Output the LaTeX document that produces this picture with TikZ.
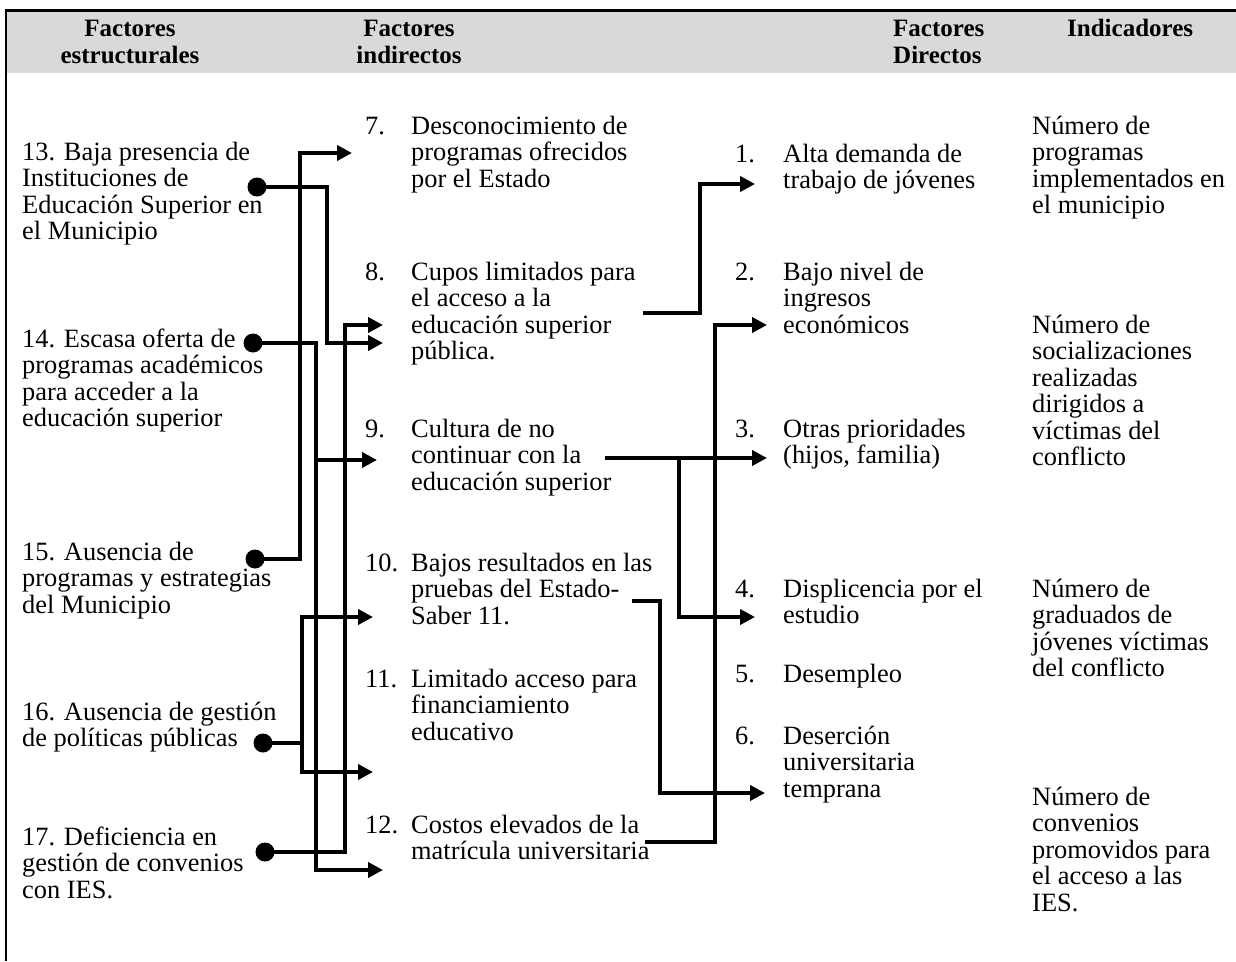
\documentclass[tikz,border=0pt]{standalone}
\usepackage{fontspec}
\setmainfont{Liberation Serif}
\usetikzlibrary{arrows.meta}
\definecolor{hdrgray}{HTML}{D9D9D9}
\newcommand\bodyf{\fontsize{26.4}{26.5}\selectfont}
\newcommand\hdrf{\fontsize{25}{27}\selectfont\bfseries}
\newcommand\ml[1]{\begin{tabular}[t]{@{}l@{}}#1\end{tabular}}
\newcommand\mc[1]{\begin{tabular}[t]{@{}c@{}}#1\end{tabular}}
\begin{document}
\begin{tikzpicture}[x=1pt,y=-1pt,
  txt/.style={anchor=base west, inner sep=0pt, font=\bodyf},
  hdr/.style={anchor=base, inner sep=0pt, font=\hdrf},
  hdrl/.style={anchor=base west, inner sep=0pt, font=\hdrf},
  conn/.style={line width=4.5pt, line join=miter},
  arr/.style={conn, -{Triangle[length=15pt,width=15pt]}},
  dotn/.style={circle, fill=black, inner sep=0pt, minimum size=19pt},
]
\useasboundingbox (0,0) rectangle (1236,961);
\fill[hdrgray] (6,11) rectangle (1236,73);
\draw[line width=3pt] (5,10) -- (1236,10);
\draw[line width=2.5pt] (6,9) -- (6,961);

% headers
\node[hdr] (h1) at (130,36) {\mc{Factores\\estructurales}};
\node[hdr] (h2) at (409,36) {\mc{Factores\\indirectos}};
\node[hdrl] (h3) at (893,36) {\ml{Factores\\Directos}};
\node[hdrl] (h4) at (1067,36) {Indicadores};

% column 1
\node[txt] (t13) at (22,160) {\ml{13. Baja presencia de\\Instituciones de\\Educación Superior en\\el Municipio}};
\node[txt] (t14) at (22,347) {\ml{14. Escasa oferta de\\programas académicos\\para acceder a la\\educación superior}};
\node[txt] (t15) at (22,560) {\ml{15. Ausencia de\\programas y estrategias\\del Municipio}};
\node[txt] (t16) at (22,720) {\ml{16. Ausencia de gestión\\de políticas públicas}};
\node[txt] (t17) at (22,845) {\ml{17. Deficiencia en\\gestión de convenios\\con IES.}};

% column 2
\node[txt] (n7) at (365,134) {7.};
\node[txt] (t7) at (411,134) {\ml{Desconocimiento de\\programas ofrecidos\\por el Estado}};
\node[txt] (n8) at (365,280) {8.};
\node[txt] (t8) at (411,280) {\ml{Cupos limitados para\\el acceso a la\\educación superior\\pública.}};
\node[txt] (n9) at (365,437) {9.};
\node[txt] (t9) at (411,437) {\ml{Cultura de no\\continuar con la\\educación superior}};
\node[txt] (n10) at (365,571) {10.};
\node[txt] (t10) at (411,571) {\ml{Bajos resultados en las\\pruebas del Estado-\\Saber 11.}};
\node[txt] (n11) at (365,687) {11.};
\node[txt] (t11) at (411,687) {\ml{Limitado acceso para\\financiamiento\\educativo}};
\node[txt] (n12) at (365,833) {12.};
\node[txt] (t12) at (411,833) {\ml{Costos elevados de la\\matrícula universitaria}};

% column 3
\node[txt] (n1) at (735,162) {1.};
\node[txt] (t1) at (783,162) {\ml{Alta demanda de\\trabajo de jóvenes}};
\node[txt] (n2) at (735,280) {2.};
\node[txt] (t2) at (783,280) {\ml{Bajo nivel de\\ingresos\\económicos}};
\node[txt] (n3) at (735,437) {3.};
\node[txt] (t3) at (783,437) {\ml{Otras prioridades\\(hijos, familia)}};
\node[txt] (n4) at (735,597) {4.};
\node[txt] (t4) at (783,597) {\ml{Displicencia por el\\estudio}};
\node[txt] (n5) at (735,682) {5.};
\node[txt] (t5) at (783,682) {Desempleo};
\node[txt] (n6) at (735,744) {6.};
\node[txt] (t6) at (783,744) {\ml{Deserción\\universitaria\\temprana}};

% column 4
\node[txt] (i1) at (1032,134) {\ml{Número de\\programas\\implementados en\\el municipio}};
\node[txt] (i2) at (1032,333) {\ml{Número de\\socializaciones\\realizadas\\dirigidos a\\víctimas del\\conflicto}};
\node[txt] (i3) at (1032,597) {\ml{Número de\\graduados de\\jóvenes víctimas\\del conflicto}};
\node[txt] (i4) at (1032,805) {\ml{Número de\\convenios\\promovidos para\\el acceso a las\\IES.}};

% dots
\node[dotn] (d13) at (257,187) {};
\node[dotn] (d14) at (253,343) {};
\node[dotn] (d15) at (255,559) {};
\node[dotn] (d16) at (263,743) {};
\node[dotn] (d17) at (265,852) {};

% arrow targets (left group)
\coordinate (a7) at (352,153);
\coordinate (a8u) at (383,325);
\coordinate (a8l) at (383,343);
\coordinate (a9) at (377,460);
\coordinate (a10) at (373,617);
\coordinate (a11) at (373,772);
\coordinate (a12) at (383,870);

\draw[arr] (d13.center) -| (327,343) -- (a8l);
\draw[arr] (d14.center) -| (316,870) -- (a12);
\draw[arr] (316,460) -- (a9);
\draw[arr] (d15.center) -| (300,153) -- (a7);
\draw[conn] (d16.center) -- (302,743);
\draw[arr] (302,743) |- (a10);
\draw[arr] (302,743) |- (a11);
\draw[arr] (d17.center) -| (345,325) -- (a8u);

% right group
\coordinate (s8) at (643,313);
\coordinate (a1) at (755,184);
\coordinate (s12) at (645,842);
\coordinate (a2) at (767,325);
\coordinate (s9) at (605,458);
\coordinate (a3) at (767,458);
\coordinate (a4) at (755,617);
\coordinate (s10) at (632,601);
\coordinate (a6) at (765,793);

\draw[arr] (s8) -| (700,184) -- (a1);
\draw[arr] (s12) -| (715,325) -- (a2);
\draw[arr] (s9) -- (a3);
\draw[arr] (679,458) |- (a4);
\draw[arr] (s10) -| (660,793) -- (a6);
\end{tikzpicture}
\end{document}
